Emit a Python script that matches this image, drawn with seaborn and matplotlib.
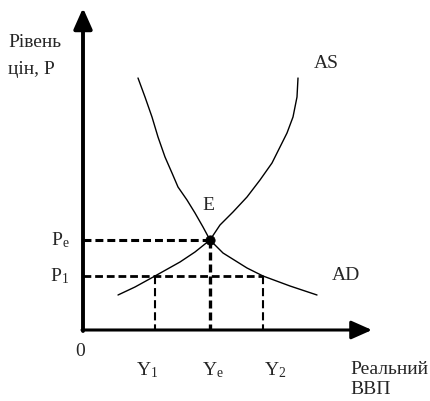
import pandas as pd
import matplotlib
matplotlib.use("Agg")
import matplotlib.pyplot as plt
import seaborn as sns

# Дані кривих (умовні одиниці)
ad_x = [5.5, 6.2, 6.9, 7.5, 8.2, 8.9, 9.5, 10.4, 11.2, 12.0, 12.7, 14.0, 16.4, 18.0, 20.7, 23.4]
ad_y = [25.2, 23.3, 21.3, 19.3, 17.3, 15.7, 14.3, 13.0, 11.7, 10.3, 9.0, 7.7, 6.2, 5.4, 4.4, 3.5]
as_x = [3.5, 5.2, 7.2, 9.7, 11.2, 12.7, 13.7, 15.0, 16.4, 17.7, 18.9, 19.7, 20.4, 21.0, 21.4, 21.5]
as_y = [3.5, 4.3, 5.4, 6.8, 7.8, 9.0, 10.5, 11.8, 13.3, 15.0, 16.7, 18.3, 19.7, 21.3, 23.3, 25.2]

# Рівновага та інші рівні
p_e, p_1 = 9.0, 5.4
y_1, y_e, y_2 = 7.2, 12.7, 18.0
x_max, y_max = 28.9, 32.2

df_ad = pd.DataFrame({"Y": ad_x, "P": ad_y})
df_as = pd.DataFrame({"Y": as_x, "P": as_y})
df_e = pd.DataFrame({"Y": [y_e], "P": [p_e]})

sns.set_theme(style="white")
plt.rcParams["font.family"] = ["Liberation Serif", "DejaVu Serif"]
plt.rcParams["mathtext.fontset"] = "custom"
plt.rcParams["mathtext.rm"] = "Liberation Serif"
plt.rcParams["mathtext.it"] = "Liberation Serif"

fig = plt.figure(figsize=(4.31, 4.01), dpi=100)
ax = fig.add_axes([0, 0, 1, 1])
ax.set_xlim(-8.3, 34.8)
ax.set_ylim(-7.1, 33.0)
ax.axis("off")

# Криві AD і AS
sns.lineplot(data=df_ad, x="Y", y="P", color="black", lw=1.0, sort=False, estimator=None, ax=ax)
sns.lineplot(data=df_as, x="Y", y="P", color="black", lw=1.0, sort=False, estimator=None, ax=ax)

# Пунктирні лінії
ax.plot([0, y_e], [p_e, p_e], color="black", lw=2.2, dashes=(2.6, 1.3))
ax.plot([y_e, y_e], [p_e, 0], color="black", lw=2.4, dashes=(2.4, 1.2))
ax.plot([0, y_2], [p_1, p_1], color="black", lw=2.0, dashes=(2.8, 1.4))
ax.plot([y_1, y_1], [p_1, 0], color="black", lw=1.5, dashes=(3.9, 1.9))
ax.plot([y_2, y_2], [p_1, 0], color="black", lw=1.5, dashes=(3.9, 1.9))

# Точка рівноваги
sns.scatterplot(data=df_e, x="Y", y="P", color="black", s=45, edgecolor="black", zorder=5, ax=ax)

# Осі зі стрілками
arrow_y = dict(arrowstyle="-|>,head_length=0.9,head_width=0.4", color="black",
               lw=2.8, mutation_scale=14, shrinkA=0, shrinkB=0)
arrow_x = dict(arrowstyle="-|>,head_length=0.9,head_width=0.4", color="black",
               lw=2.2, mutation_scale=14, shrinkA=0, shrinkB=0)
ax.annotate("", xy=(0, y_max), xytext=(0, -0.1), arrowprops=arrow_y)
ax.annotate("", xy=(x_max, 0), xytext=(-0.1, 0), arrowprops=arrow_x)

# Підписи
fs = 14
ax.text(-7.5, 28.8, "Рівень", fontsize=fs, ha="left", va="center")
ax.text(-7.5, 26.1, "цін, P", fontsize=fs, ha="left", va="center")
ax.text(-2.3, p_e, r"P$_\mathrm{e}$", fontsize=fs, ha="center", va="center")
ax.text(-2.3, p_1, r"P$_\mathrm{1}$", fontsize=fs, ha="center", va="center")
ax.text(-0.3, -2.2, "0", fontsize=fs, ha="center", va="center")
ax.text(6.4, -4.0, r"Y$_\mathrm{1}$", fontsize=fs, ha="center", va="center")
ax.text(13.0, -4.0, r"Y$_\mathrm{e}$", fontsize=fs, ha="center", va="center")
ax.text(19.2, -4.0, r"Y$_\mathrm{2}$", fontsize=fs, ha="center", va="center")
ax.text(26.7, -4.0, "Реальний", fontsize=fs, ha="left", va="center")
ax.text(26.7, -6.0, "ВВП", fontsize=fs, ha="left", va="center")
ax.text(12.55, 12.5, "E", fontsize=fs, ha="center", va="center")
ax.text(24.3, 26.7, "AS", fontsize=fs, ha="center", va="center")
ax.text(26.3, 5.4, "AD", fontsize=fs, ha="center", va="center")

fig.savefig("out.png", dpi=100)
